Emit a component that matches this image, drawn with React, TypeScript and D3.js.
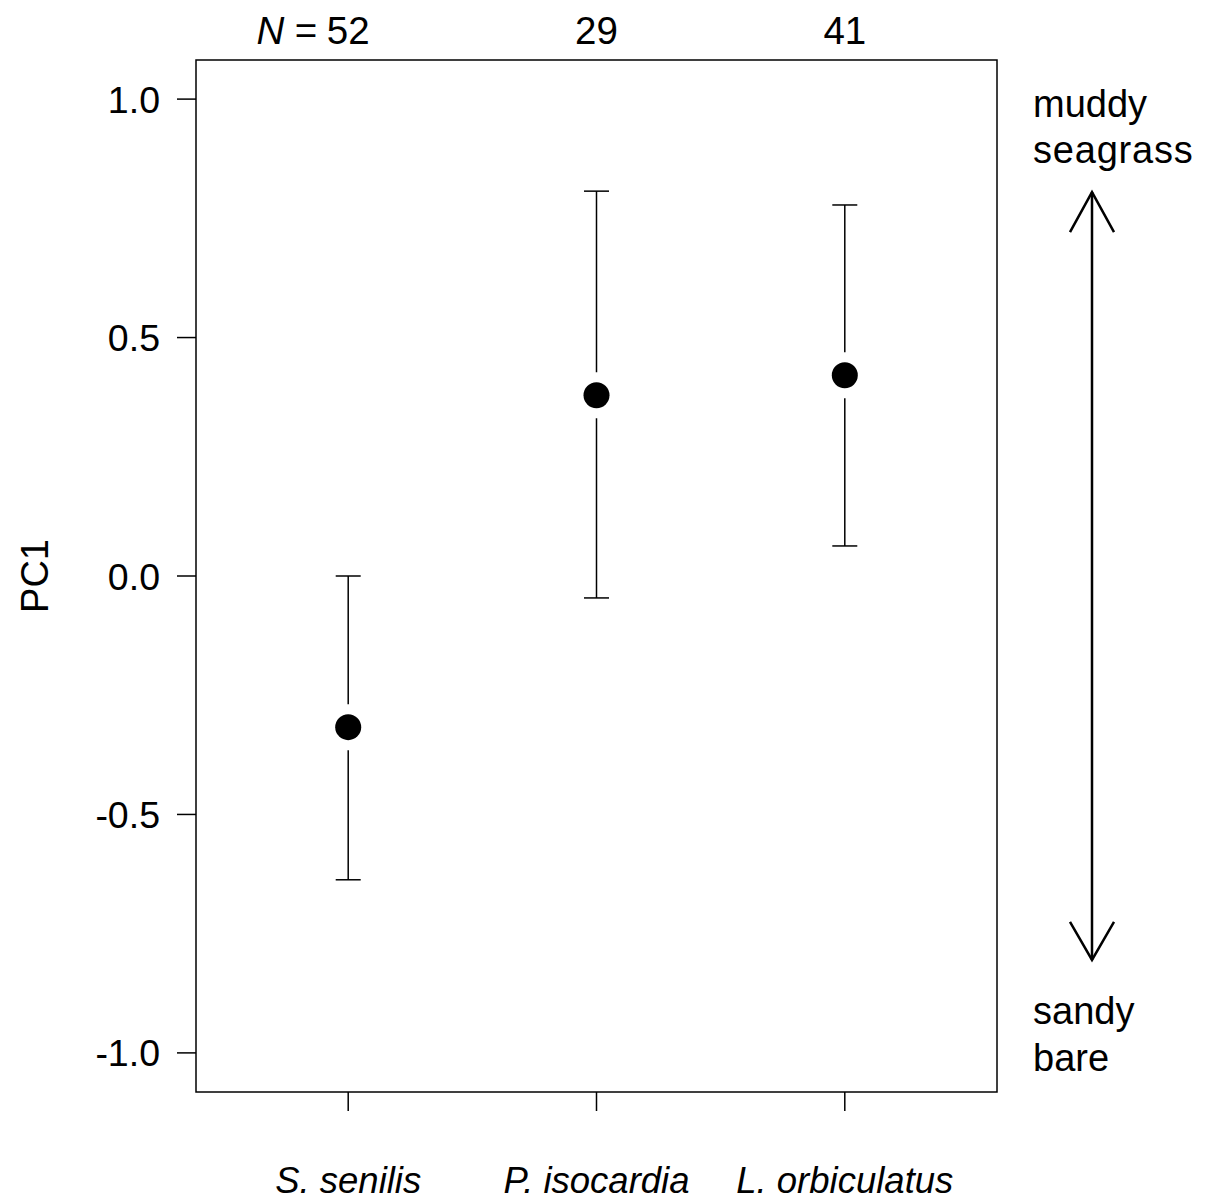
import React from "react";
import * as d3 from "d3";

// species and summary values
const species = ["S. senilis", "P. isocardia", "L. orbiculatus"];
const sampleSizes = [52, 29, 41];
const means = [-0.317, 0.379, 0.421];
const lower = [-0.637, -0.046, 0.063];
const upper = [0.0, 0.807, 0.778];
const yTicks = [-1.0, -0.5, 0.0, 0.5, 1.0];

const W = 1205;
const H = 1202;
const box = { left: 196, right: 997, top: 60, bottom: 1092 };
const font = "'Liberation Sans', Arial, sans-serif";

export default function App() {
  const x = d3.scaleLinear().domain([0.387, 3.613]).range([box.left, box.right]);
  const y = d3.scaleLinear().domain([-1.082, 1.082]).range([box.bottom, box.top]);

  const arrowX = 1092;
  const arrowTop = y(0.805);
  const arrowBottom = y(-0.805);
  const gap = 23;

  return (
    <svg width={W} height={H} style={{ display: "block", position: "absolute", left: 0, top: 0 }}>
      <rect width={W} height={H} fill="#fff" />
      <rect
        x={box.left}
        y={box.top}
        width={box.right - box.left}
        height={box.bottom - box.top}
        fill="none"
        stroke="#000"
        strokeWidth={1.5}
      />

      {/* y axis */}
      {yTicks.map((t) => (
        <g key={t}>
          <line x1={box.left - 19} x2={box.left} y1={y(t)} y2={y(t)} stroke="#000" strokeWidth={1.5} />
          <text
            x={box.left - 36}
            y={y(t)}
            dy="0.36em"
            textAnchor="end"
            fontFamily={font}
            fontSize={37.5}
          >
            {t.toFixed(1)}
          </text>
        </g>
      ))}
      <text
        transform={`translate(48,${y(0)}) rotate(-90)`}
        textAnchor="middle"
        fontFamily={font}
        fontSize={38}
      >
        PC1
      </text>

      {/* x axis ticks and labels */}
      {species.map((s, i) => (
        <g key={s}>
          <line x1={x(i + 1)} x2={x(i + 1)} y1={box.bottom} y2={box.bottom + 19} stroke="#000" strokeWidth={1.5} />
          <text
            x={x(i + 1)}
            y={1180}
            dy="0.36em"
            textAnchor="middle"
            fontFamily={font}
            fontSize={36.5}
            fontStyle="italic"
          >
            {s}
          </text>
          <text x={x(i + 1)} y={30} dy="0.36em" textAnchor="middle" fontFamily={font} fontSize={38.5}>
            {String(sampleSizes[i])}
          </text>
          {i === 0 && (
            <>
              <text x={x(i + 1) - 31} y={30} dy="0.36em" textAnchor="end" fontFamily={font} fontSize={38.5}>
                =
              </text>
              <text
                x={x(i + 1) - 64}
                y={30}
                dy="0.36em"
                textAnchor="end"
                fontFamily={font}
                fontSize={38.5}
                fontStyle="italic"
              >
                N
              </text>
            </>
          )}
        </g>
      ))}

      {/* error bars and means */}
      {species.map((s, i) => {
        const cx = x(i + 1);
        const cap = 12.5;
        return (
          <g key={s + "-bar"} stroke="#000" strokeWidth={1.5}>
            <line x1={cx} x2={cx} y1={y(upper[i])} y2={y(means[i]) - gap} />
            <line x1={cx} x2={cx} y1={y(means[i]) + gap} y2={y(lower[i])} />
            <line x1={cx - cap} x2={cx + cap} y1={y(upper[i])} y2={y(upper[i])} />
            <line x1={cx - cap} x2={cx + cap} y1={y(lower[i])} y2={y(lower[i])} />
            <circle cx={cx} cy={y(means[i])} r={13} fill="#000" stroke="none" />
          </g>
        );
      })}

      {/* gradient arrow */}
      <g stroke="#000" strokeWidth={2.5} fill="none">
        <line x1={arrowX} x2={arrowX} y1={arrowTop} y2={arrowBottom} />
        <polyline points={`${arrowX - 22},${arrowTop + 40} ${arrowX},${arrowTop} ${arrowX + 22},${arrowTop + 40}`} />
        <polyline
          points={`${arrowX - 22},${arrowBottom - 38} ${arrowX},${arrowBottom} ${arrowX + 22},${arrowBottom - 38}`}
        />
      </g>
      <g fontFamily={font} fontSize={38}>
        <text x={1033} y={103} dy="0.36em">muddy</text>
        <text x={1033} y={149} dy="0.36em" letterSpacing={0.8}>seagrass</text>
        <text x={1033} y={1010} dy="0.36em">sandy</text>
        <text x={1033} y={1057} dy="0.36em">bare</text>
      </g>
    </svg>
  );
}
